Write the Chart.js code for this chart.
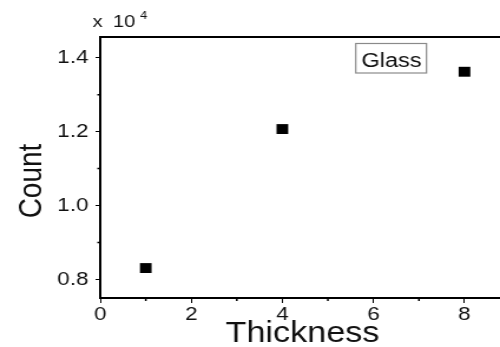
<!DOCTYPE html>
<html>
<head>
<meta charset="utf-8">
<script src="https://cdn.jsdelivr.net/npm/chart.js@4"></script>
<style>
    html, body { margin: 0; padding: 0; background: #fff; overflow: hidden; }
    #wrap { position: absolute; left: 0; top: 0; width: 424px; height: 347px; transform: scaleX(1.1792); transform-origin: 0 0; }
</style>
</head>
<body>
<div id="wrap"><canvas id="chart"></canvas></div>
<script>
// Data
const thickness = [1, 4, 8];
const counts = [8310, 12070, 13620];
const xTicks = [0, 2, 4, 6, 8];
const yTicks = [8000, 10000, 12000, 14000];
const xMinor = [1, 3, 5, 7];
const yMinor = [9000, 11000, 13000];
const seriesLabel = 'Glass';
const xTitle = 'Thickness';
const yTitle = 'Count';

const ink = '#111';
const font = 'Liberation Sans, Arial, sans-serif';

function drawTopFrame(chart) {
    const ctx = chart.ctx;
    const ys = chart.scales.y;
    const xs = chart.scales.x;
    const top = Math.round(ys.getPixelForValue(ys.max));
    ctx.save();
    ctx.fillStyle = '#000';
    ctx.fillRect(xs.left - 1, top - 1, xs.right - xs.left + 2, 2);
    ctx.restore();
}

// extra drawing: top frame, minor ticks, titles, exponent, legend box
const decor = {
    id: 'decor',
    afterDatasetsDraw(chart) {
        drawTopFrame(chart);
    },
    afterDraw(chart) {
        const ctx = chart.ctx;
        const a = chart.chartArea;
        const xs = chart.scales.x;
        const ys = chart.scales.y;

        drawTopFrame(chart);

        ctx.save();
        ctx.setLineDash([]);

        // minor ticks
        ctx.strokeStyle = '#000';
        ctx.lineWidth = 1.5;
        ctx.beginPath();
        xMinor.forEach(v => {
            const px = xs.getPixelForValue(v);
            ctx.moveTo(px, a.bottom);
            ctx.lineTo(px, a.bottom + 3);
        });
        yMinor.forEach(v => {
            const py = ys.getPixelForValue(v);
            ctx.moveTo(a.left, py);
            ctx.lineTo(a.left - 2.5, py);
        });
        ctx.stroke();

        ctx.fillStyle = ink;

        // x title
        ctx.font = '29px ' + font;
        ctx.textAlign = 'center';
        ctx.textBaseline = 'alphabetic';
        ctx.fillText(xTitle, (a.left + a.right) / 2 + 2, 342);

        // y title
        ctx.save();
        ctx.translate(35, 181);
        ctx.rotate(-Math.PI / 2);
        ctx.font = '28px ' + font;
        ctx.fillText(yTitle, 0, 0);
        ctx.restore();

        // exponent
        ctx.textAlign = 'left';
        ctx.font = '17px ' + font;
        ctx.fillText('x', 78.5, 26.5);
        ctx.fillText('10', 95.8, 26.5);
        ctx.font = '11px ' + font;
        ctx.fillText('4', 118.8, 18.5);

        // legend box
        ctx.strokeStyle = '#8a8a8a';
        ctx.lineWidth = 1.2;
        ctx.strokeRect(301.7, 43.5, 60, 29.5);
        ctx.font = '20px ' + font;
        ctx.textAlign = 'center';
        ctx.fillText(chart.data.datasets[0].label, 332, 66.5);

        ctx.restore();
    }
};

new Chart(document.getElementById('chart'), {
    type: 'scatter',
    data: {
        datasets: [{
            label: seriesLabel,
            data: thickness.map((x, i) => ({ x: x, y: counts[i] })),
            pointStyle: 'rect',
            pointRadius: 7,
            pointHoverRadius: 7,
            backgroundColor: '#000',
            borderWidth: 0
        }]
    },
    options: {
        responsive: true,
        maintainAspectRatio: false,
        animation: false,
        layout: { autoPadding: false, padding: { top: 37, left: 0, right: 0, bottom: 0 } },
        plugins: {
            legend: { display: false },
            tooltip: { enabled: false }
        },
        scales: {
            x: {
                min: 0,
                max: 8.78,
                afterFit: s => { s.height = 49; s.paddingRight = 0; },
                afterBuildTicks: s => { s.ticks = xTicks.map(v => ({ value: v })); },
                ticks: {
                    color: ink,
                    padding: 0,
                    maxRotation: 0,
                    font: { family: font, size: 19 }
                },
                grid: {
                    drawOnChartArea: false,
                    tickLength: 5,
                    tickColor: '#000'
                },
                border: { color: '#000', width: 2 }
            },
            y: {
                min: 7500,
                max: 14560,
                afterFit: s => { s.width = 85; },
                afterBuildTicks: s => { s.ticks = yTicks.map(v => ({ value: v })); },
                ticks: {
                    color: ink,
                    padding: 6,
                    font: { family: font, size: 19 },
                    callback: v => (v / 10000).toFixed(1)
                },
                grid: {
                    drawOnChartArea: false,
                    tickLength: 4,
                    tickColor: '#000'
                },
                border: { color: '#000', width: 2 }
            }
        }
    },
    plugins: [decor]
});
</script>
</body>
</html>
